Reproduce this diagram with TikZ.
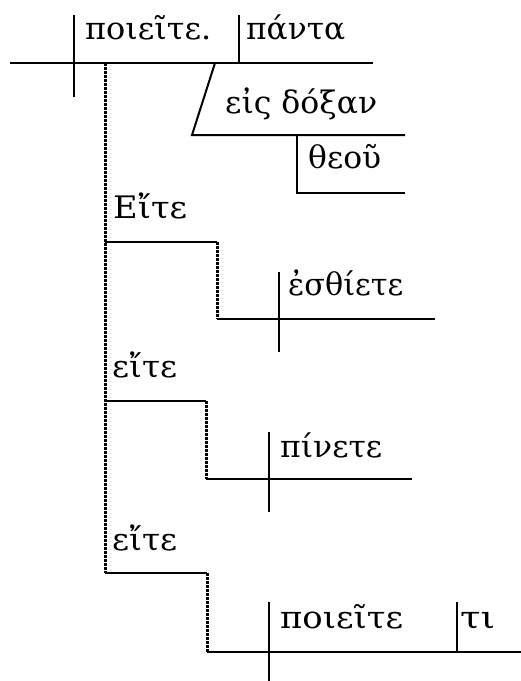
\documentclass[tikz,border=0pt]{standalone}
\usepackage{fontspec}
\usepackage{graphicx}
\setmainfont{DejaVu Serif}
\newcommand\fitw[2]{\resizebox{#1}{\height}{#2}}
\begin{document}
\begin{tikzpicture}[x=1pt,y=-1pt,
  ln/.style={line width=2pt},
  dl/.style={line width=3pt,dash pattern=on 2.6pt off 1.4pt},
  wd/.style={anchor=base west,inner sep=0pt,font=\fontsize{31}{31}\selectfont}]
\useasboundingbox (0,0) rectangle (521,681);
% main clause
\coordinate (mL) at (10,63); \coordinate (mR) at (373,63);
\draw[ln] (mL) -- (mR);
\draw[ln] (74,15) -- (74,97);
\draw[ln] (239,15) -- (239,63);
\node[wd] (v1) at (85,39) {\fitw{126pt}{ποιεῖτε.}};
\node[wd] (o1) at (246,39) {\fitw{99pt}{πάντα}};
% prepositional phrase
\coordinate (pA) at (215,63); \coordinate (pB) at (192,135); \coordinate (pC) at (405,135);
\draw[ln] (pA) -- (pB) -- (pC);
\node[wd] (pp) at (225,113) {\fitw{152pt}{εἰς δόξαν}};
\coordinate (gA) at (297,135); \coordinate (gB) at (297,193); \coordinate (gC) at (405,193);
\draw[ln] (gA) -- (gB) -- (gC);
\node[wd] (g) at (308,168) {\fitw{73pt}{θεοῦ}};
% dotted spine
\coordinate (s0) at (105,63); \coordinate (s3) at (105,573);
\draw[dl] (s0) -- (s3);
% first clause
\node[wd] (c1) at (113,218) {\fitw{74pt}{Εἴτε}};
\coordinate (a1) at (105,242); \coordinate (b1) at (217,242); \coordinate (d1) at (217,319); \coordinate (e1) at (435,319);
\draw[ln] (a1) -- (b1);
\draw[dl] (b1) -- (d1);
\draw[ln] (d1) -- (e1);
\draw[ln] (279,272) -- (279,352);
\node[wd] (v2) at (288,295) {\fitw{115pt}{ἐσθίετε}};
% second clause
\node[wd] (c2) at (112,377) {\fitw{65pt}{εἴτε}};
\coordinate (a2) at (105,401); \coordinate (b2) at (206,401); \coordinate (d2) at (206,479); \coordinate (e2) at (412,479);
\draw[ln] (a2) -- (b2);
\draw[dl] (b2) -- (d2);
\draw[ln] (d2) -- (e2);
\draw[ln] (269,432) -- (269,512);
\node[wd] (v3) at (280,457) {\fitw{102pt}{πίνετε}};
% third clause
\node[wd] (c3) at (112,550) {\fitw{65pt}{εἴτε}};
\coordinate (b3) at (207,573); \coordinate (d3) at (207,652); \coordinate (e3) at (521,652);
\draw[ln] (s3) -- (b3);
\draw[dl] (b3) -- (d3);
\draw[ln] (d3) -- (e3);
\draw[ln] (269,602) -- (269,681);
\draw[ln] (457,602) -- (457,652);
\node[wd] (v4) at (280,628) {\fitw{123pt}{ποιεῖτε}};
\node[wd] (o4) at (460,628) {\fitw{35pt}{τι}};
\end{tikzpicture}
\end{document}
